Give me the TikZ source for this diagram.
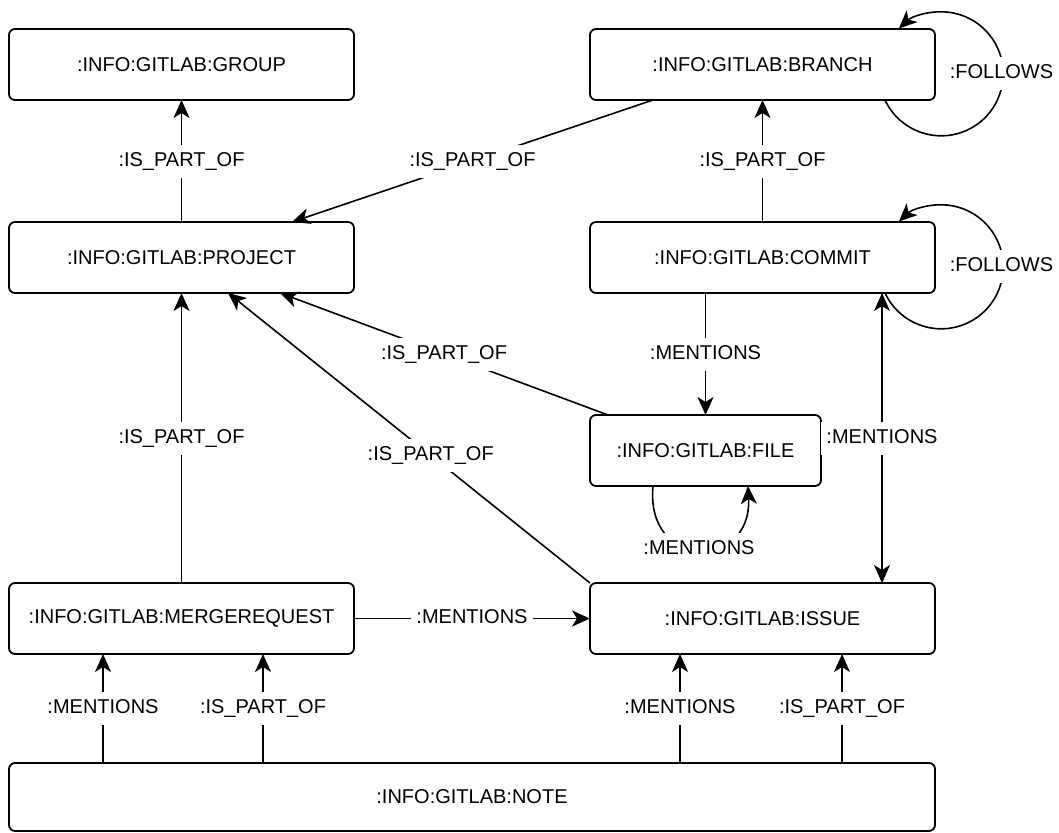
\documentclass[tikz,border=0pt]{standalone}
\usepackage{fontspec}
\setmainfont{Liberation Sans}
\usetikzlibrary{arrows.meta}

\begin{document}
\begin{tikzpicture}[x=1pt, y=1pt,
  >={Stealth[length=18pt, width=16pt, inset=5pt]},
  entity/.style={draw, line width=1.8pt, rounded corners=6pt, outer sep=0pt,
    inner sep=0pt, minimum height=71pt, minimum width=345pt,
    font=\fontsize{20}{24}\selectfont},
  rel/.style={line width=1.6pt, ->},
  birel/.style={line width=1.6pt, <->},
  lbl/.style={fill=white, inner xsep=5pt, inner ysep=7pt, text height=14.5pt,
    text depth=4.5pt, font=\fontsize{20}{24}\selectfont},
]
\useasboundingbox (0,0) rectangle (1059,-832);

% entities
\node[entity] (group)   at (181.5,-64.5)  {:INFO:GITLAB:GROUP};
\node[entity] (branch)  at (762.5,-64.5)  {:INFO:GITLAB:BRANCH};
\node[entity] (project) at (181.5,-257.5) {:INFO:GITLAB:PROJECT};
\node[entity] (commit)  at (762.5,-257.5) {:INFO:GITLAB:COMMIT};
\node[entity, minimum width=231pt] (file) at (705.5,-450.5) {:INFO:GITLAB:FILE};
\node[entity] (mr)      at (181.5,-618.5) {:INFO:GITLAB:MERGEREQUEST};
\node[entity] (issue)   at (762.5,-618.5) {:INFO:GITLAB:ISSUE};
\node[entity, minimum width=926pt, minimum height=68pt] (note) at (472,-797) {:INFO:GITLAB:NOTE};

% relations
\draw[rel] (project) -- (group) node[lbl, midway] (l1) {:IS\_PART\_OF};
\draw[rel] ([xshift=63pt]branch.south west) -- ([xshift=-62pt]project.north east)
  node[lbl, midway] (l2) {:IS\_PART\_OF};
\draw[rel] (commit) -- (branch) node[lbl, midway] (l3) {:IS\_PART\_OF};
\draw[rel] (file.north |- commit.south) -- (file.north) node[lbl, midway] (l4) {:MENTIONS};
\draw[rel] ([xshift=18pt]file.north west) -- ([xshift=-74pt]project.south east)
  node[lbl, midway] (l5) {:IS\_PART\_OF};
\draw[rel] (issue.north west) -- ([xshift=46.5pt]project.south)
  node[lbl, pos=0.44] (l6) {:IS\_PART\_OF};
\draw[rel] (mr) -- (project) node[lbl, midway] (l7) {:IS\_PART\_OF};
\draw[birel] ([xshift=-53pt]issue.north east) -- ([xshift=-53pt]commit.south east)
  node[lbl, midway] (l8) {:MENTIONS};
\draw[rel] (mr) -- (issue) node[lbl, midway] (l9) {:MENTIONS};

% note links
\draw[rel] ([xshift=94pt]mr.south west |- note.north) -- ([xshift=94pt]mr.south west)
  node[lbl, midway] (l10) {:MENTIONS};
\draw[rel] ([xshift=254pt]mr.south west |- note.north) -- ([xshift=254pt]mr.south west)
  node[lbl, midway] (l11) {:IS\_PART\_OF};
\draw[rel] ([xshift=90pt]issue.south west |- note.north) -- ([xshift=90pt]issue.south west)
  node[lbl, midway] (l12) {:MENTIONS};
\draw[rel] ([xshift=252pt]issue.south west |- note.north) -- ([xshift=252pt]issue.south west)
  node[lbl, midway] (l13) {:IS\_PART\_OF};

% self loops
\draw[rel] ([xshift=-50pt]branch.south east) arc[start angle=205, end angle=493, radius=62pt];
\node[lbl] (l14) at ([xshift=66.5pt, yshift=-9pt]branch.east) {:FOLLOWS};
\draw[rel] ([xshift=-50pt]commit.south east) arc[start angle=205, end angle=493, radius=62pt];
\node[lbl] (l15) at ([xshift=66.5pt, yshift=-9pt]commit.east) {:FOLLOWS};
\draw[rel] ([xshift=63pt]file.south west) .. controls +(-8,-85) and +(4,-85) ..
  ([xshift=158pt]file.south west) node[lbl, pos=0.5] (l16) {:MENTIONS};
\end{tikzpicture}
\end{document}
